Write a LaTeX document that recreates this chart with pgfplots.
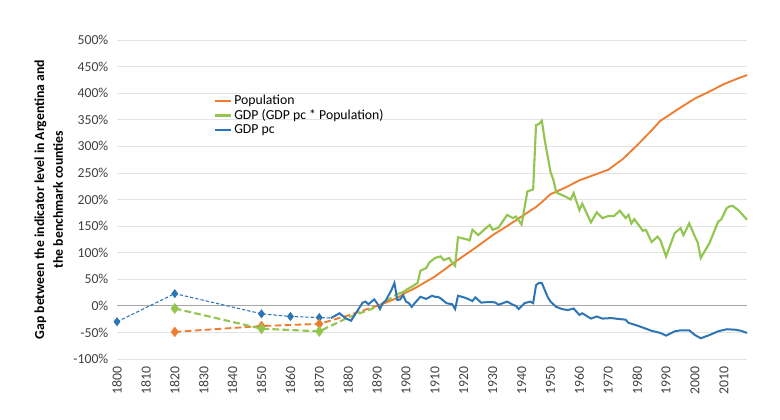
\documentclass[border=0pt]{standalone}
\usepackage{pgfplots}
\pgfplotsset{compat=1.18}
\usepackage{fontspec}
\setmainfont{Carlito}
\definecolor{cBlue}{HTML}{2E75B6}
\definecolor{cOrange}{HTML}{ED7D31}
\definecolor{cGreen}{HTML}{92C650}
\definecolor{cTick}{HTML}{404040}
\definecolor{cGrid}{HTML}{E3E3E3}
\definecolor{cZero}{HTML}{A6A6A6}
\begin{document}
\begin{tikzpicture}
\begin{axis}[
  scale only axis,
  width=472.5pt, height=239.25pt,
  xmin=1800, xmax=2018,
  ymin=-100, ymax=500,
  xtick={1800,1810,...,2010},
  ytick={-100,-50,...,500},
  xticklabel style={rotate=90, anchor=east, font=\fontsize{10.3}{12}\selectfont, text=cTick},
  yticklabel style={font=\fontsize{10.3}{12}\selectfont, text=cTick},
  xticklabel={\pgfmathprintnumber[int detect,1000 sep={}]{\tick}},
  yticklabel={\pgfmathprintnumber{\tick}\%},
  /pgf/number format/assume math mode=true,
  /pgf/number format/1000 sep={},
  axis line style={draw=none},
  major tick length=0pt,
  ymajorgrids,
  grid style={cGrid, line width=0.6pt},
  ylabel={Gap between the indicator level in Argentina and\\the benchmark counties},
  every axis y label/.style={at={(ticklabel cs:0.5,1pt)}, rotate=90, anchor=south,
    align=center, font=\bfseries\fontsize{10.3}{14}\selectfont, text=black},
  yticklabel shift=3pt,
  xticklabel shift=2pt,
  legend style={at={(rel axis cs:0.152,0.84)}, anchor=north west, draw=none, fill=none,
    font=\fontsize{10.3}{12}\selectfont, row sep=-2pt, inner sep=1pt},
  legend cell align=left,
  legend image code/.code={\draw[#1, mark=none] (0cm,0cm) -- (0.4cm,0cm);},
  clip=false,
]
\draw[cZero, line width=0.9pt] (axis cs:1800,0) -- (axis cs:2018,0);

% early dashed segments
\addplot[forget plot, cBlue, line width=0.8pt, dash pattern=on 2.5pt off 1.5pt,
  mark=diamond*, mark size=2.8pt, mark options={solid}, mark indices={1,2,3,4,5}]
  coordinates {(1800,-30) (1820,23) (1850,-15) (1860,-20) (1870,-22) (1874,-23)};
\addplot[forget plot, cOrange, line width=1.4pt, dash pattern=on 5pt off 2.5pt,
  mark=diamond*, mark size=2.8pt, mark options={solid}, mark indices={1,2,3}]
  coordinates {(1820,-49) (1850,-38) (1870,-34) (1880,-18) (1890,0)};
\addplot[forget plot, cGreen, line width=1.6pt, dash pattern=on 5pt off 2.5pt,
  mark=diamond*, mark size=2.8pt, mark options={solid}, mark indices={1,2,3}]
  coordinates {(1820,-5) (1850,-43) (1870,-48) (1880,-22) (1890,-2) (1897,22)};

% Population
\addplot[cOrange, line width=1.4pt] coordinates {
(1890,0) (1893,6) (1897,15) (1900,25) (1903,33) (1910,55) (1915,75) (1920,94)
(1925,113) (1930,133) (1935,150) (1940,168) (1945,186) (1947,195) (1950,210)
(1955,222) (1960,236) (1965,246) (1970,256) (1975,276) (1980,302) (1985,330)
(1988,348) (1990,355) (1995,373) (2000,390) (2005,403) (2010,417) (2015,428) (2018,434)
};
\addlegendentry{Population}

% GDP
\addplot[cGreen, line width=1.6pt] coordinates {
(1897,22) (1899,26) (1901,33) (1902,36) (1904,43) (1905,66) (1907,71) (1908,81)
(1910,90) (1912,93) (1913,86) (1915,90) (1916,80) (1917,75) (1918,129) (1921,125)
(1922,123) (1923,143) (1925,133) (1927,143) (1929,152) (1930,143) (1932,147)
(1935,171) (1937,165) (1938,168) (1940,153) (1942,215) (1944,219) (1945,340)
(1946,342) (1947,348) (1948,312) (1950,252) (1951,237) (1952,213) (1955,206)
(1957,200) (1958,212) (1960,180) (1961,192) (1964,157) (1966,176) (1968,165)
(1970,169) (1972,169) (1974,179) (1976,165) (1977,171) (1978,155) (1979,163)
(1982,141) (1983,143) (1985,120) (1987,130) (1988,124) (1990,93) (1993,137)
(1995,146) (1996,133) (1998,155) (2000,130) (2001,118) (2002,90) (2005,118)
(2008,158) (2009,162) (2011,184) (2012,187) (2013,188) (2015,180) (2016,174) (2018,162)
};
\addlegendentry{GDP (GDP pc * Population)}

% GDP pc
\addplot[cBlue, line width=1.5pt] coordinates {
(1874,-23) (1877,-14) (1879,-23) (1881,-28) (1883,-11) (1885,6) (1886,8) (1887,3)
(1889,12) (1890,5) (1891,-6) (1892,5) (1893,10) (1895,30) (1896,43) (1897,11)
(1898,12) (1899,20) (1900,8) (1901,5) (1902,-2) (1903,5) (1905,17) (1907,13)
(1909,19) (1910,17) (1911,17) (1912,14) (1914,5) (1916,3) (1917,-6) (1918,19)
(1920,16) (1921,14) (1923,9) (1924,16) (1926,6) (1928,7) (1930,7) (1931,6)
(1932,2) (1935,8) (1937,2) (1938,0) (1939,-6) (1941,5) (1943,8) (1944,5)
(1945,39) (1946,43) (1947,43) (1948,30) (1949,17) (1950,8) (1952,-2) (1954,-6)
(1956,-8) (1958,-5) (1960,-17) (1961,-14) (1964,-24) (1966,-20) (1968,-24)
(1971,-23) (1974,-25) (1976,-26) (1977,-32) (1980,-37) (1982,-41) (1985,-47)
(1988,-51) (1990,-56) (1993,-48) (1995,-46) (1998,-46) (2000,-55) (2002,-61)
(2005,-55) (2008,-48) (2011,-44) (2014,-45) (2016,-47) (2018,-51)
};
\addlegendentry{GDP pc}
\end{axis}
\path ([shift={(-87.75pt,-45.75pt)}]current axis.south west) rectangle ([shift={(24.75pt,30pt)}]current axis.north east);
\end{tikzpicture}
\end{document}
